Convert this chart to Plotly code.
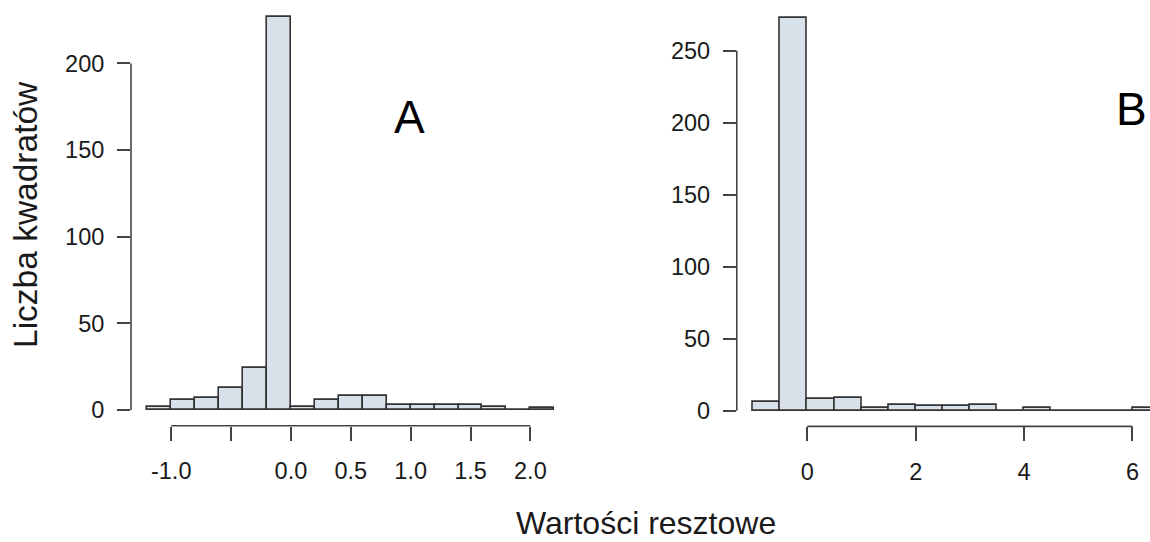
import plotly.graph_objects as go

# ---- data ----
edges_a = [-1.2, -1.0, -0.8, -0.6, -0.4, -0.2, 0.0, 0.2, 0.4, 0.6, 0.8, 1.0, 1.2, 1.4, 1.6, 1.8, 2.0, 2.2]
counts_a = [2, 6, 7, 13, 24, 227, 2, 6, 8, 8, 3, 3, 3, 3, 2, 0, 1]
xticks_a = [-1.0, -0.5, 0.0, 0.5, 1.0, 1.5, 2.0]
xticklabels_a = ["-1.0", "", "0.0", "0.5", "1.0", "1.5", "2.0"]
yticks_a = [0, 50, 100, 150, 200]

edges_b = [-1.0, -0.5, 0.0, 0.5, 1.0, 1.5, 2.0, 2.5, 3.0, 3.5, 4.0, 4.5, 5.0, 5.5, 6.0, 6.5]
counts_b = [6, 273, 8, 9, 2, 4, 3, 3, 4, 0, 2, 0, 0, 0, 2]
xticks_b = [0, 2, 4, 6]
xticklabels_b = ["0", "2", "4", "6"]
yticks_b = [0, 50, 100, 150, 200, 250]

panel_labels = ["A", "B"]
x_title = "Wartości resztowe"
y_title = "Liczba kwadratów"

FILL = "#D8E0E9"
EDGE = "#333333"
AXC = "#444444"
TXT = "#1a1a1a"
FONT = "Liberation Sans, Arial, sans-serif"

W, H = 1150, 542


def centers(e):
    return [(e[i] + e[i + 1]) / 2 for i in range(len(e) - 1)]


def widths(e):
    return [e[i + 1] - e[i] for i in range(len(e) - 1)]


fig = go.Figure()
fig.add_trace(go.Bar(x=centers(edges_a), y=counts_a, width=widths(edges_a),
                     marker=dict(color=FILL, line=dict(color=EDGE, width=1.6)),
                     xaxis="x", yaxis="y", showlegend=False, hoverinfo="x+y"))
fig.add_trace(go.Bar(x=centers(edges_b), y=counts_b, width=widths(edges_b),
                     marker=dict(color=FILL, line=dict(color=EDGE, width=1.6)),
                     xaxis="x2", yaxis="y2", showlegend=False, hoverinfo="x+y"))


def rng(e, c, ext=0.04):
    lo, hi = e[0], e[-1]
    d = (hi - lo) * ext
    ymax = max(c)
    return [lo - d, hi + d], [-ymax * ext, ymax * (1 + ext)]


xr_a, yr_a = rng(edges_a, counts_a)
xr_b, yr_b = rng(edges_b, counts_b)
# panel B is cropped at the right edge of the image
xr_b = [xr_b[0], 6.323]

axis_common = dict(showgrid=False, zeroline=False, showline=False, ticks="outside",
                   tickcolor=AXC, tickwidth=1.6, automargin=False,
                   tickfont=dict(family=FONT, size=23.5, color=TXT))

fig.update_layout(
    width=W, height=H, template="none",
    paper_bgcolor="white", plot_bgcolor="white",
    margin=dict(l=0, r=0, t=0, b=0),
    bargap=0, showlegend=False,
    xaxis=dict(domain=[131 / W, 570.6 / W], range=xr_a, anchor="y",
               tickvals=xticks_a, ticktext=xticklabels_a, ticklen=14,
               ticklabelstandoff=10, **axis_common),
    yaxis=dict(domain=[1 - 425.7 / H, 1 - 0.9 / H], range=yr_a, anchor="x",
               tickvals=yticks_a, ticklen=13, ticklabelstandoff=8, **axis_common),
    xaxis2=dict(domain=[736.8 / W, 1.0], range=xr_b, anchor="y2",
                tickvals=xticks_b, ticktext=xticklabels_b, ticklen=14,
                ticklabelstandoff=10, **axis_common),
    yaxis2=dict(domain=[1 - 426.4 / H, 1 - 1.9 / H], range=yr_b, anchor="x2",
                tickvals=yticks_b, ticklen=13, ticklabelstandoff=8, **axis_common),
)

# R-style axis lines spanning only first..last tick
for xa, ya, xt, yt in [("x", "y", xticks_a, yticks_a), ("x2", "y2", xticks_b, yticks_b)]:
    fig.add_shape(type="line", xref=xa, yref=ya + " domain", x0=min(xt), x1=max(xt), y0=0, y1=0,
                  line=dict(color=AXC, width=1.6))
    fig.add_shape(type="line", xref=xa + " domain", yref=ya, x0=0, x1=0, y0=min(yt), y1=max(yt),
                  line=dict(color=AXC, width=1.6))

fig.add_annotation(text=panel_labels[0], x=409 / W, y=1 - 116.5 / H, xref="paper", yref="paper",
                   showarrow=False, font=dict(family=FONT, size=46, color="black"),
                   xanchor="center", yanchor="middle")
fig.add_annotation(text=panel_labels[1], x=1131 / W, y=1 - 108.5 / H, xref="paper", yref="paper",
                   showarrow=False, font=dict(family=FONT, size=46, color="black"),
                   xanchor="center", yanchor="middle")
fig.add_annotation(text=x_title, x=646 / W, y=1 - 523 / H, xref="paper", yref="paper",
                   showarrow=False, font=dict(family=FONT, size=32, color=TXT),
                   xanchor="center", yanchor="middle")
fig.add_annotation(text=y_title, x=25 / W, y=1 - 215 / H, xref="paper", yref="paper",
                   showarrow=False, textangle=-90, font=dict(family=FONT, size=33.5, color=TXT),
                   xanchor="center", yanchor="middle")

fig.write_html("out.html")
